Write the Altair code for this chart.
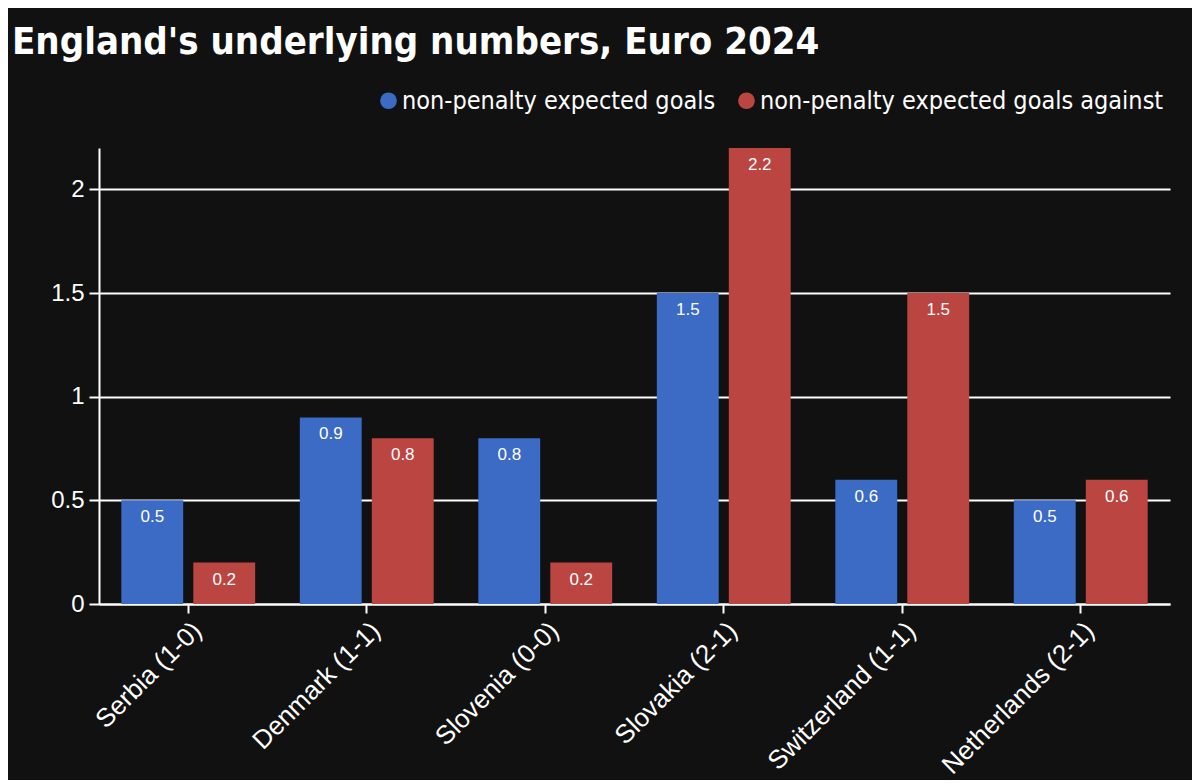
import altair as alt
import pandas as pd

opponents = ["Serbia (1-0)", "Denmark (1-1)", "Slovenia (0-0)", "Slovakia (2-1)",
             "Switzerland (1-1)", "Netherlands (2-1)"]
npxg = [0.5, 0.9, 0.8, 1.5, 0.6, 0.5]
npxga = [0.2, 0.8, 0.2, 2.2, 1.5, 0.6]
series = ["non-penalty expected goals", "non-penalty expected goals against"]
colors = ["#3b6bc4", "#bb4541"]

rows = []
for i, o in enumerate(opponents):
    rows.append({"opponent": o, "metric": series[0], "value": npxg[i]})
    rows.append({"opponent": o, "metric": series[1], "value": npxga[i]})
df = pd.DataFrame(rows)

COND = "DejaVu Sans Condensed"

base = alt.Chart(df).encode(
    x=alt.X("opponent:N", sort=opponents, title=None,
            scale=alt.Scale(paddingInner=0.25, paddingOuter=0.125),
            axis=alt.Axis(labelAngle=-45, labelFont="Liberation Sans", labelFontSize=26,
                          labelLimit=0,
                          labelColor="white", tickColor="white", tickSize=9, tickWidth=2,
                          domainColor="white", domainWidth=2, labelPadding=4, grid=False)),
    xOffset=alt.XOffset("metric:N", sort=series,
                        scale=alt.Scale(paddingInner=0.14, paddingOuter=0)),
)

bars = base.mark_bar().encode(
    y=alt.Y("value:Q", title=None,
            scale=alt.Scale(domain=[0, 2.2], nice=False),
            axis=alt.Axis(values=[0, 0.5, 1, 1.5, 2], format="~g",
                          labelFont="Liberation Sans", labelFontSize=24, labelColor="white",
                          tickColor="white", tickSize=10, tickWidth=2,
                          domainColor="white", domainWidth=2, labelPadding=5,
                          grid=True, gridColor="white", gridWidth=2, gridOpacity=1)),
    color=alt.Color("metric:N", sort=series,
                    scale=alt.Scale(domain=series, range=colors),
                    legend=alt.Legend(title=None, orient="none", direction="horizontal",
                                      legendX=277, legendY=-60,
                                      symbolType="circle", symbolSize=280,
                                      symbolStrokeWidth=0, symbolOpacity=1,
                                      labelFont=COND, labelFontSize=25, labelLimit=0,
                                      labelColor="white", labelOffset=1,
                                      columnPadding=18)),
)

labels = base.mark_text(baseline="middle", dy=17, color="white",
                        font="Liberation Sans", fontSize=17).encode(
    y=alt.Y("value:Q"),
    text=alt.Text("value:Q", format=".1f"),
)

chart = (bars + labels).properties(
    width=1071, height=456,
    background="#111111",
    padding={"left": 91, "top": 140, "right": 22, "bottom": 176},
    autosize=alt.AutoSizeParams(type="none"),
    title=alt.TitleParams("England's underlying numbers, Euro 2024",
                          anchor="start", frame="group", dx=-87, offset=26,
                          font=COND, fontSize=38, fontWeight="bold",
                          color="white"),
).configure_view(stroke=None)

chart.save("out.html", embed_options={"renderer": "svg", "actions": False})
